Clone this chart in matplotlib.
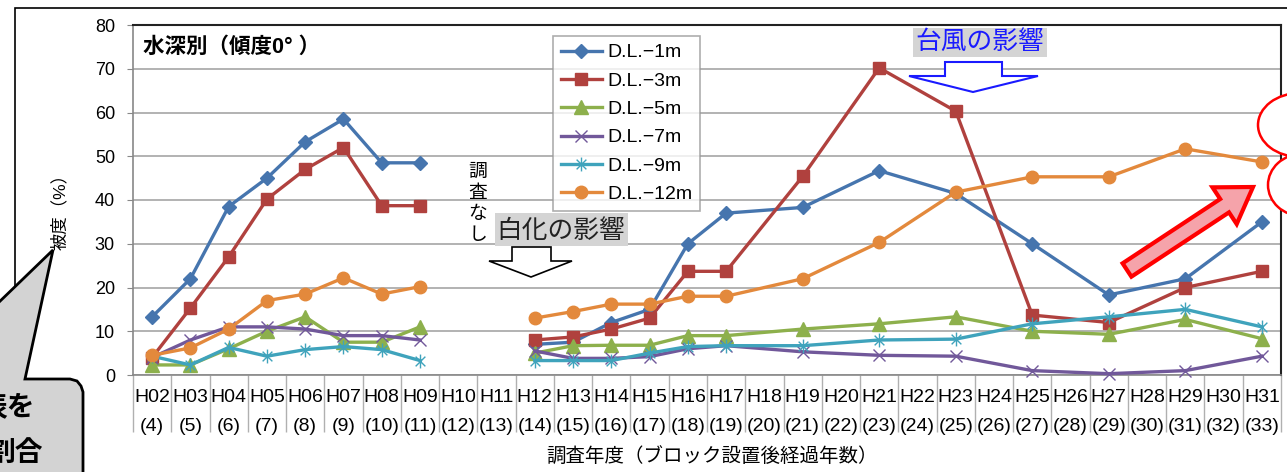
import matplotlib
matplotlib.use("Agg")
import matplotlib.pyplot as plt
import numpy as np
from matplotlib.patches import Polygon, Rectangle, Ellipse
from matplotlib.path import Path
from matplotlib.lines import Line2D

plt.rcParams["font.family"] = ["Liberation Sans", "Noto Sans CJK JP"]

# categories: survey year (years since block placement)
years = ["H02", "H03", "H04", "H05", "H06", "H07", "H08", "H09", "H10", "H11",
         "H12", "H13", "H14", "H15", "H16", "H17", "H18", "H19", "H20", "H21",
         "H22", "H23", "H24", "H25", "H26", "H27", "H28", "H29", "H30", "H31"]
elapsed = [4, 5, 6, 7, 8, 9, 10, 11, 12, 13, 14, 15, 16, 17, 18, 19, 20, 21,
           22, 23, 24, 25, 26, 27, 28, 29, 30, 31, 32, 33]

# coverage (%) by depth
dl1 = [13.3, 22, 38.5, 45, 53.3, 58.5, 48.5, 48.5, None, None,
       7, 7.5, 12, 15, 30, 37, None, 38.3, None, 46.7,
       None, 41.5, None, 30, None, 18.3, None, 22, None, 35]
dl3 = [4, 15.3, 27, 40.2, 47, 52, 38.7, 38.7, None, None,
       8, 8.7, 10.5, 13, 23.7, 23.7, None, 45.4, None, 70.2,
       None, 60.3, None, 13.7, None, 12, None, 20, None, 23.7]
dl5 = [2.3, 2.3, 6, 10, 13.3, 7.5, 7.5, 11, None, None,
       5, 6.7, 6.8, 6.8, 9, 9, None, 10.5, None, 11.7,
       None, 13.3, None, 10, None, 9.3, None, 12.7, None, 8.3]
dl7 = [4, 8, 11, 11, 10.5, 9, 9, 8, None, None,
       5.5, 3.8, 3.8, 4.2, 6, 6.7, None, 5.3, None, 4.5,
       None, 4.3, None, 1, None, 0.3, None, 1, None, 4.3]
dl9 = [4.3, 2.3, 6.3, 4.3, 5.8, 6.5, 5.8, 3.3, None, None,
       3.3, 3.3, 3.3, 5, 6.5, 6.7, None, 6.7, None, 8,
       None, 8.2, None, 11.7, None, 13.3, None, 15, None, 11]
dl12 = [4.5, 6.2, 10.5, 17, 18.5, 22.2, 18.5, 20.2, None, None,
        13, 14.5, 16.2, 16.2, 18, 18, None, 22, None, 30.3,
        None, 41.8, None, 45.3, None, 45.3, None, 51.7, None, 48.7]

labels = ["D.L.\u22121m", "D.L.\u22123m", "D.L.\u22125m",
          "D.L.\u22127m", "D.L.\u22129m", "D.L.\u221212m"]

# excel-style asterisk marker
star = Path([(0, -1), (0, 1), (-0.7, -0.7), (0.7, 0.7), (-0.7, 0.7), (0.7, -0.7)],
            [Path.MOVETO, Path.LINETO, Path.MOVETO, Path.LINETO, Path.MOVETO, Path.LINETO])

styles = [
    dict(color="#4675AE", marker="D", ms=7.5),
    dict(color="#B0413E", marker="s", ms=9),
    dict(color="#8DB04C", marker="^", ms=9.5),
    dict(color="#71589A", marker="x", ms=9, mew=1),
    dict(color="#3FA3BC", marker=star, ms=10, mew=1),
    dict(color="#E3893C", marker="o", ms=9),
]

W, H = 1287, 472
fig = plt.figure(figsize=(W / 100, H / 100), dpi=100)


def fp(x, y):
    # pixel (top-left origin) -> figure fraction
    return (x / W, 1 - y / H)


ax = fig.add_axes([133 / W, 97 / H, (1281 - 133) / W, 350 / H])

for vals, st in zip([dl1, dl3, dl5, dl7, dl9, dl12], styles):
    for lo, hi in [(0, 10), (10, 30)]:
        xs = [i for i in range(lo, hi) if vals[i] is not None]
        ys = [vals[i] for i in xs]
        ax.plot(xs, ys, lw=2.4, clip_on=False, zorder=3, **st)

ax.set_xlim(-0.5, 29.5)
ax.set_ylim(0, 80)
ax.set_yticks(range(0, 81, 10))
ax.tick_params(axis="y", length=4, color="#888888", pad=9, labelsize=13)
ax.grid(axis="y", color="#a6a6a6", lw=1.2)
ax.set_axisbelow(True)

ax.set_xticks(np.arange(-0.5, 30, 1))
ax.set_xticklabels([])
ax.tick_params(axis="x", which="major", length=41, color="#b0b0b0", width=1)
ax.set_xticks(range(30), minor=True)
ax.set_xticklabels([f"{y}\n({e})" for y, e in zip(years, elapsed)], minor=True)
ax.tick_params(axis="x", which="minor", length=0, pad=10, labelsize=14)
for t in ax.get_xticklabels(minor=True):
    t.set_linespacing(1.9)

for s in ["left", "bottom"]:
    ax.spines[s].set_color("#888888")
    ax.spines[s].set_linewidth(1.2)
for s in ["top", "right"]:
    ax.spines[s].set_color("#222222")
    ax.spines[s].set_linewidth(1.5)

handles = [Line2D([], [], lw=2.4, **st) for st in styles]
leg = fig.legend(handles, labels, loc="upper left", bbox_to_anchor=fp(553, 36),
                 fontsize=14, frameon=True, fancybox=False, handlelength=2.1,
                 handletextpad=0.3, labelspacing=0.55, borderpad=0.4,
                 borderaxespad=0)
leg.get_frame().set_edgecolor("#999999")
leg.get_frame().set_linewidth(1.2)

# outer chart frame
fig.patches.append(Rectangle(fp(15, 500), (1400 - 15) / W, (500 - 8) / H,
                             transform=fig.transFigure, fill=False,
                             ec="black", lw=1.2, zorder=0))

ax.text(0.009, 0.935, "水深別（傾度0° ）", transform=ax.transAxes,
        fontsize=15.5, fontweight="bold", va="center", ha="left")

fig.text(*fp(60, 207), "被度（%）", rotation=90, fontsize=12.5,
         ha="center", va="center")
fig.text(*fp(712, 457), "調査年度（ブロック設置後経過年数）", fontsize=14,
         ha="center", va="center")
fig.text(*fp(478, 204), "調\n査\nな\nし", fontsize=13.5, ha="center",
         va="center", linespacing=1.3)

# bleaching label and arrow
fig.patches.append(Rectangle(fp(495, 246), 133 / W, 33 / H,
                             transform=fig.transFigure, fc="#d4d4d4", ec="none", zorder=4))
fig.text(*fp(561, 231), "白化の影響", fontsize=18.5, color="#222222",
         ha="center", va="center", zorder=5)
arr1 = [(512, 247), (551, 247), (551, 261), (572, 261), (531, 277), (489, 261), (512, 261)]
fig.patches.append(Polygon([fp(*p) for p in arr1], closed=True, transform=fig.transFigure,
                           fc="white", ec="black", lw=1.2, zorder=4))

# typhoon label and arrow
fig.patches.append(Rectangle(fp(913, 57), 134 / W, 29 / H,
                             transform=fig.transFigure, fc="#d4d4d4", ec="none", zorder=4))
fig.text(*fp(980, 42), "台風の影響", fontsize=18.5, color="#1a1aff",
         ha="center", va="center", zorder=5)
arr2 = [(945, 62), (1002, 62), (1002, 76), (1038, 76), (973, 92), (909, 76), (945, 76)]
fig.patches.append(Polygon([fp(*p) for p in arr2], closed=True, transform=fig.transFigure,
                           fc="white", ec="#1a1aff", lw=1.5, zorder=4))

# red arrow
tail = np.array([1127.0, 270.0])
tip = np.array([1253.0, 187.0])
d = tip - tail
u = d / np.hypot(*d)
n = np.array([-u[1], u[0]])
hl, hw, sw = 34, 22, 8
base = tip - u * hl
pts = [tail + n * sw, base + n * sw, base + n * hw, tip,
       base - n * hw, base - n * sw, tail - n * sw]
fig.patches.append(Polygon([fp(*p) for p in pts], closed=True, transform=fig.transFigure,
                           fc="#f5a3aa", ec="#ff0000", lw=3, zorder=6))

# red ellipses at right edge
for cx, cy, ew, eh in [(1300, 125, 84, 64), (1302, 185, 68, 62)]:
    fig.patches.append(Ellipse(fp(cx, cy), ew / W, eh / H, transform=fig.transFigure,
                               fc="white", ec="#ff0000", lw=1.8, zorder=6))

# callout bubble at lower left
bub = [(-5, 306), (53, 250), (25, 379), (70, 379), (77, 381), (81, 386), (83, 392),
       (83, 480), (-5, 480)]
fig.patches.append(Polygon([fp(*p) for p in bub], closed=True, transform=fig.transFigure,
                           fc="#d3d3d3", ec="black", lw=2, zorder=7))
fig.text(*fp(35, 409), "表を", fontsize=20, fontweight="bold", ha="right",
         va="center", zorder=8)
fig.text(*fp(43, 454), "割合", fontsize=20, fontweight="bold", ha="right",
         va="center", zorder=8)

fig.savefig("out.png", dpi=100)
